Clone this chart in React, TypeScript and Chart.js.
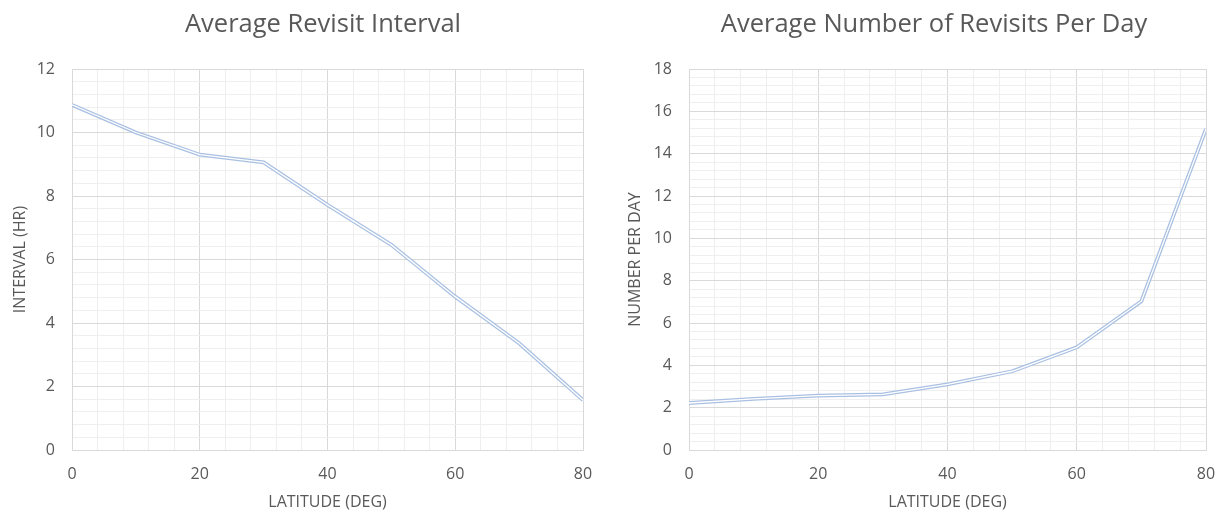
import React, { useEffect, useRef } from "react";
import { Chart, registerables } from "chart.js";

Chart.register(...registerables);

const latitudes = [0, 10, 20, 30, 40, 50, 60, 70, 80];
const intervalHours = [10.87, 10.0, 9.3, 9.06, 7.72, 6.46, 4.83, 3.36, 1.57];
const revisitsPerDay = [2.22, 2.42, 2.57, 2.63, 3.1, 3.72, 4.85, 7.03, 15.17];

const xTickLabels = [0, 20, 40, 60, 80];
const leftTitle = "Average Revisit Interval";
const rightTitle = "Average Number of Revisits Per Day";
const leftYTitle = "INTERVAL (HR)";
const rightYTitle = "NUMBER PER DAY";
const xTitle = "LATITUDE (DEG)";

const FONT = "'Open Sans', Lato, sans-serif";
const TEXT = "#595959";
const MAJOR = "#d9d9d9";
const MINOR = "#efefef";
const LINE_OUTER = "#a9c0e2";

const isMult = (v: number, m: number) => Math.abs(v / m - Math.round(v / m)) < 1e-6;

const titlePlugin = {
  id: "chartTitleText",
  afterDraw(chart: any, _args: any, opts: any) {
    const ctx = chart.ctx;
    ctx.save();
    ctx.font = `normal ${opts.size}px ${FONT}`;
    ctx.fillStyle = TEXT;
    ctx.textAlign = "center";
    ctx.textBaseline = "alphabetic";
    ctx.fillText(opts.text, opts.x, opts.y);
    ctx.restore();
  },
};

function makeConfig(title: string, titleX: number, yTitle: string, values: number[], yMax: number, yAxisWidth: number, padRight: number, yTitlePad: number) {
  const pts = latitudes.map((x, i) => ({ x, y: values[i] }));
  return {
    type: "line" as const,
    data: {
      datasets: [
        { data: pts, borderColor: "#ffffff", borderWidth: 1.3, pointRadius: 0, tension: 0, fill: false, order: 0 },
        { data: pts, borderColor: LINE_OUTER, borderWidth: 3.8, pointRadius: 0, tension: 0, fill: false, order: 1 },
      ],
    },
    plugins: [titlePlugin],
    options: {
      responsive: false,
      animation: false as const,
      layout: { padding: { left: 0, right: padRight, top: 69, bottom: 0 } },
      plugins: {
        legend: { display: false },
        tooltip: { enabled: false },
        title: { display: false },
        chartTitleText: { text: title, x: titleX, y: 31.5, size: 25.5 },
      },
      scales: {
        x: {
          type: "linear" as const,
          min: 0,
          max: 80,
          afterFit: (s: any) => { s.height = 64; s.paddingLeft = 0; s.paddingRight = 0; },
          ticks: {
            stepSize: 4,
            autoSkip: false,
            maxRotation: 0,
            padding: 15,
            color: TEXT,
            font: { family: FONT, size: 16 },
            callback: (v: any) => (xTickLabels.some((t) => Math.abs(Number(v) - t) < 1e-6) ? String(Math.round(Number(v))) : ""),
          },
          grid: {
            drawTicks: false,
            color: (ctx: any) => (ctx.tick && isMult(ctx.tick.value, 20) ? MAJOR : MINOR),
            lineWidth: 1,
          },
          border: { display: true, color: MAJOR },
          title: {
            display: true,
            text: xTitle,
            color: TEXT,
            font: { family: FONT, size: 16, weight: "normal" as const, lineHeight: 1.2 },
            padding: { top: 0, bottom: 1.5 },
          },
        },
        y: {
          type: "linear" as const,
          min: 0,
          max: yMax,
          afterFit: (s: any) => { s.width = yAxisWidth; },
          ticks: {
            stepSize: 0.4,
            autoSkip: false,
            padding: 17,
            color: TEXT,
            font: { family: FONT, size: 16 },
            callback: (v: any) => (isMult(Number(v), 2) ? String(Math.round(Number(v))) : ""),
          },
          grid: {
            drawTicks: false,
            color: (ctx: any) => (ctx.tick && isMult(ctx.tick.value, 2) ? MAJOR : MINOR),
            lineWidth: 1,
          },
          border: { display: true, color: MAJOR },
          title: {
            display: true,
            text: yTitle,
            color: TEXT,
            font: { family: FONT, size: 16, weight: "normal" as const, lineHeight: 1.2 },
            padding: { top: yTitlePad, bottom: 0 },
          },
        },
      },
    },
  };
}

function LineChart(props: { cfg: any; left: number }) {
  const ref = useRef<HTMLCanvasElement | null>(null);
  useEffect(() => {
    if (!ref.current) return;
    const chart = new Chart(ref.current, props.cfg);
    return () => chart.destroy();
  }, []);
  return (
    <canvas
      ref={ref}
      width={609}
      height={514}
      style={{ position: "absolute", left: props.left, top: 0, width: 609, height: 514 }}
    />
  );
}

export default function App() {
  const leftCfg = makeConfig(leftTitle, 323, leftYTitle, intervalHours, 12, 72, 26, 10.4);
  const rightCfg = makeConfig(rightTitle, 325, rightYTitle, revisitsPerDay, 18, 80, 12, 17);
  return (
    <div style={{ position: "absolute", left: 0, top: 0, width: 1218, height: 514, background: "#fff" }}>
      <LineChart cfg={leftCfg} left={0} />
      <LineChart cfg={rightCfg} left={609} />
    </div>
  );
}
